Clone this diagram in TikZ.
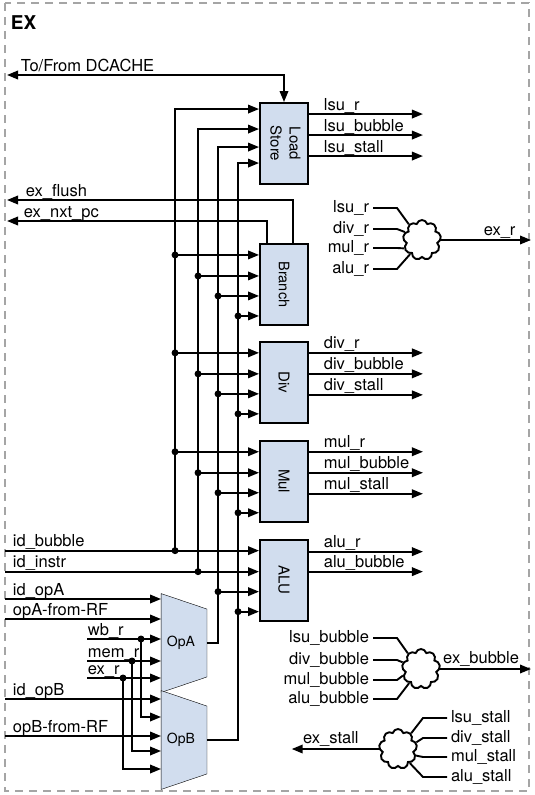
\documentclass[tikz,border=0pt]{standalone}
\usepackage{fontspec}
\setmainfont{TeX Gyre Heros}
\usepackage{graphicx}
\usepackage{tikz}
\usetikzlibrary{arrows.meta,calc,positioning,shapes.symbols,backgrounds}
\definecolor{blkblue}{RGB}{209,221,238}
\definecolor{bordergray}{RGB}{165,165,165}

\begin{document}
\begin{tikzpicture}[x=1pt,y=-1pt,>={Triangle[length=11pt,width=8.5pt]},line width=1.9pt,
  block/.style={rectangle,draw,fill=blkblue,minimum width=48pt,minimum height=81pt,inner sep=0pt,font=\fontsize{15}{19}\selectfont},
  muxbox/.style={rectangle,minimum width=44pt,minimum height=97pt,inner sep=0pt,font=\fontsize{14}{16}\selectfont},
  mux/.style={draw,fill=blkblue,line join=round},
  orgate/.style={cloud,cloud puffs=9,draw,fill=white,minimum width=38pt,minimum height=40pt,inner sep=0pt},
  lbl/.style={inner sep=0pt,font=\fontsize{16.5}{18}\selectfont}]

  \useasboundingbox (0,0) rectangle (535,795);
  \draw[bordergray,line width=1.2pt,dash pattern=on 8pt off 6pt] (5,3) rectangle (529,791);
  \node[anchor=north west,inner sep=0pt,font=\fontsize{19}{20}\selectfont\bfseries] (ex) at (10,15) {EX};
  \coordinate (lb) at (5,0);
  \coordinate (rb) at (531,0);

  % units
  \node[block] (ls) at (284,143.5) {\rotatebox{-90}{\begin{tabular}{@{}c@{}}Load\\Store\end{tabular}}};
  \node[block, below=58pt of ls] (br) {\rotatebox{-90}{\fontsize{14.5}{16}\selectfont Branch}};
  \node[block, below=15pt of br] (dv) {\rotatebox{-90}{Div}};
  \node[block, below=16pt of dv] (ml) {\rotatebox{-90}{Mul}};
  \node[block, below=16pt of ml] (al) {\rotatebox{-90}{ALU}};

  % operand muxes
  \node[muxbox] (opA) at (184,643) {\hspace*{-6pt}OpA};
  \node[muxbox] (opB) at (184,740) {\hspace*{-6pt}OpB};
  \begin{scope}[on background layer]
    \foreach \m in {opA,opB}
      \draw[mux] (\m.north west) -- ([yshift=-15.5pt]\m.north east) -- ([yshift=15.5pt]\m.south east) -- (\m.south west) -- cycle;
  \end{scope}

  % buses
  \coordinate (bA) at ($(al.north west)+(-84,12)$);
  \coordinate (bB) at ($(al.north west)+(-61,33)$);
  \coordinate (bC) at ($(al.north west)+(-41,53)$);
  \coordinate (bD) at ($(al.north west)+(-21,73)$);
  \foreach \bus/\o in {bA/7,bB/27,bC/45,bD/61}
    \coordinate (ls\bus) at ($(ls.north west)+(0,\o)$);
  \draw[->] (bA) |- (lsbA);
  \draw[->] (bB) |- (lsbB);
  \draw[->] (opA.east) -| (bC) |- (lsbC);
  \draw[->] (opB.east) -| (bD) |- (lsbD);
  \foreach \blk in {br,dv,ml,al}
    \foreach \bus/\o in {bA/12,bB/33,bC/53,bD/73} {
      \coordinate (p) at ($(\blk.north west)+(0,\o)$);
      \draw[->] (\bus |- p) -- (p);
      \fill (\bus |- p) circle[radius=3.5pt];
    }

  % inputs from the left
  \draw (lb |- bA) -- (bA) node[lbl,pos=0,anchor=base west,xshift=7pt,yshift=4pt] {id\_bubble};
  \draw (lb |- bB) -- (bB) node[lbl,pos=0,anchor=base west,xshift=7pt,yshift=4pt] {id\_instr};
  \foreach \y/\t/\m in {599/id\_opA/opA,619/opA-from-RF/opA,699/id\_opB/opB,736/opB-from-RF/opB}
    \draw[->] (lb |- 0,\y) -- (\m.west |- 0,\y) node[lbl,pos=0,anchor=base west,xshift=7pt,yshift=4pt] {\t};
  \foreach \y/\t/\x/\yb in {639/wb\_r/141/717,661/mem\_r/132/751,678/ex\_r/123/769} {
    \draw[->] (87,\y) -- (opA.west |- 0,\y) node[lbl,pos=0,anchor=base west,yshift=4pt] {\t};
    \fill (\x,\y) circle[radius=3.5pt];
    \draw[->] (\x,\y) |- (opB.west |- 0,\yb);
  }

  % to the left
  \coordinate (dc) at (7,75);
  \coordinate (ef) at (7,200);
  \coordinate (en) at (7,221);
  \draw[<->] (dc) -| (ls.north) node[lbl,pos=0,anchor=base west,xshift=13pt,yshift=4pt] {To/From DCACHE};
  \draw[->] ([xshift=9pt]br.north) |- (ef) node[lbl,pos=1,anchor=base west,xshift=18pt,yshift=4pt] {ex\_flush};
  \draw[->] ([xshift=-17pt]br.north) |- (en) node[lbl,pos=1,anchor=base west,xshift=16pt,yshift=4pt] {ex\_nxt\_pc};

  % unit outputs
  \foreach \blk/\n in {ls/lsu,dv/div,ml/mul}
    \foreach \s/\o in {r/12,bubble/33,stall/54}
      \draw[->] ($(\blk.north east)+(0,\o)$) -- ++(114,0) node[lbl,pos=0,anchor=base west,xshift=14pt,yshift=4pt] {\n\_\s};
  \foreach \s/\o in {r/13,bubble/33}
    \draw[->] ($(al.north east)+(0,\o)$) -- ++(114,0) node[lbl,pos=0,anchor=base west,xshift=14pt,yshift=4pt] {alu\_\s};

  % ex_r
  \node[orgate] (orr) at (422,240) {};
  \foreach \n/\y/\a in {lsu/208/130,div/229/155,mul/248/205,alu/269/230} {
    \node[lbl,anchor=east,outer xsep=4pt] (r\n) at (373,\y) {\n\_r};
    \draw (r\n.east) -- ++(24,0) -- (orr.\a);
  }
  \draw[->] (orr.east) -- (orr.east -| rb) node[lbl,pos=0.65,anchor=base,yshift=5pt] {ex\_r};

  % ex_bubble
  \node[orgate] (orb) at (421,669) {};
  \foreach \n/\y/\a in {lsu/638/130,div/660/160,mul/680/200,alu/699/230} {
    \node[lbl,anchor=east,outer xsep=4pt] (b\n) at (373,\y) {\n\_bubble};
    \draw (b\n.east) -- ++(24,0) -- (orb.\a);
  }
  \draw[->] (orb.east) -- (orb.east -| rb) node[lbl,pos=0.45,anchor=base,yshift=6pt] {ex\_bubble};

  % ex_stall
  \node[orgate] (ors) at (398,749) {};
  \foreach \n/\y/\a in {lsu/718/50,div/738/20,mul/757/340,alu/777/310} {
    \node[lbl,anchor=west,outer xsep=4pt] (s\n) at (447,\y) {\n\_stall};
    \draw (s\n.west) -- ++(-24,0) -- (ors.\a);
  }
  \draw[->] (ors.west) -- ++(-87,0) node[lbl,pos=0.55,anchor=base,yshift=6pt] {ex\_stall};
\end{tikzpicture}
\end{document}
